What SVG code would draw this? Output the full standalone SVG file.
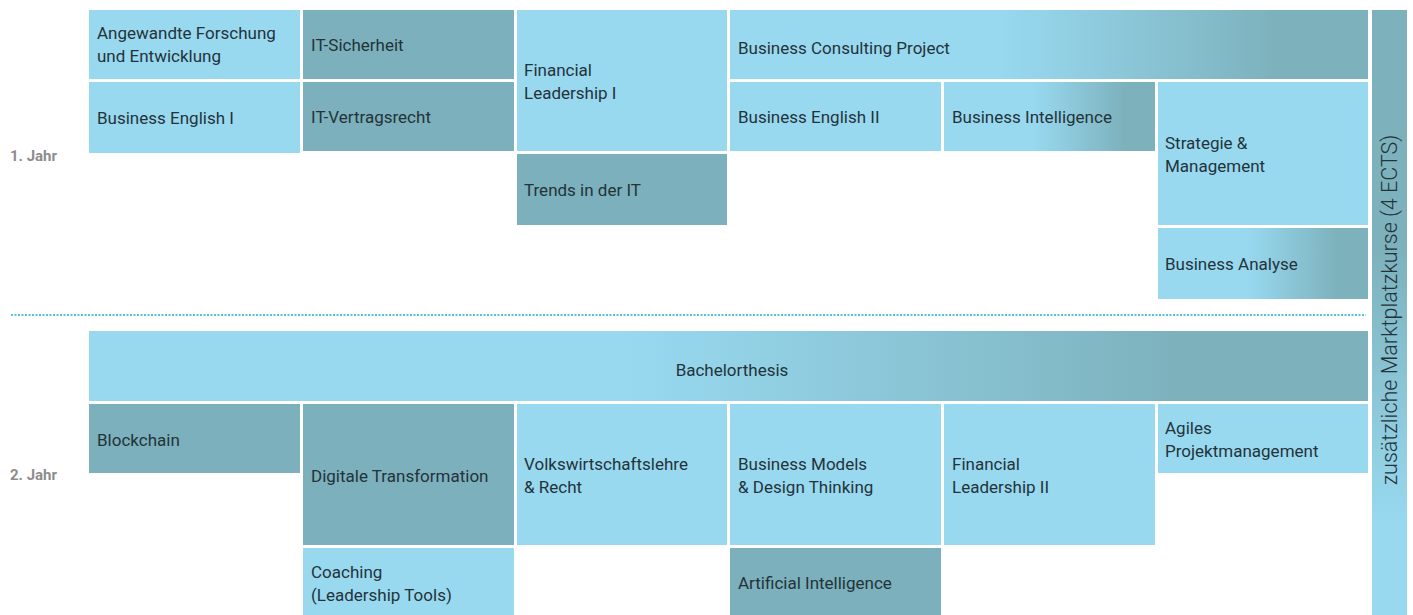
<svg xmlns="http://www.w3.org/2000/svg" width="1413" height="615" viewBox="0 0 1413 615">
<defs>
<linearGradient id="gh" x1="0" y1="0" x2="1" y2="0">
<stop offset="0.42" stop-color="#98d9f0"/>
<stop offset="0.85" stop-color="#7db2bd"/>
</linearGradient>
<linearGradient id="gv" x1="0" y1="0" x2="0" y2="1">
<stop offset="0.4" stop-color="#7db2bd"/>
<stop offset="0.85" stop-color="#98d9f0"/>
</linearGradient>
<style>
.l{fill:#98d9f0}
.d{fill:#7bb0bc}
.g{fill:url(#gh)}
text{font-family:Roboto,"Liberation Sans",sans-serif;font-size:17px;fill:#24333a}
.yr{font-weight:bold;font-size:15px;fill:#8c8c8c}
.v{font-size:21.5px;font-weight:300;fill:#24333a}
</style>
</defs>
<rect width="1413" height="615" fill="#ffffff"/>
<g id="connectors">
<line x1="11" y1="315" x2="1366" y2="315" stroke="#52c4e0" stroke-width="2" stroke-dasharray="2 1.5"/>
</g>
<g id="labels">
<text class="yr" x="10" y="161">1. Jahr</text>
<text class="yr" x="10" y="480">2. Jahr</text>
</g>
<g id="n-angewandte"><rect class="l" x="89" y="10" width="211" height="69"/><text x="97" y="39">Angewandte Forschung</text><text x="97" y="62">und Entwicklung</text></g>
<g id="n-itsicherheit"><rect class="d" x="303" y="10" width="211" height="69"/><text x="311" y="51">IT-Sicherheit</text></g>
<g id="n-be1"><rect class="l" x="89" y="82" width="211" height="71"/><text x="97" y="124">Business English I</text></g>
<g id="n-itvertrag"><rect class="d" x="303" y="82" width="211" height="69"/><text x="311" y="123">IT-Vertragsrecht</text></g>
<g id="n-fl1"><rect class="l" x="517" y="10" width="210" height="141"/><text x="524" y="76">Financial</text><text x="524" y="99">Leadership I</text></g>
<g id="n-trends"><rect class="d" x="517" y="154" width="210" height="71"/><text x="524" y="196">Trends in der IT</text></g>
<g id="n-bcp"><rect class="g" x="730" y="10" width="638" height="69"/><text x="738" y="54">Business Consulting Project</text></g>
<g id="n-be2"><rect class="l" x="730" y="82" width="211" height="69"/><text x="738" y="123">Business English II</text></g>
<g id="n-bi"><rect class="g" x="944" y="82" width="211" height="69"/><text x="952" y="123">Business Intelligence</text></g>
<g id="n-strategie"><rect class="l" x="1158" y="82" width="210" height="143"/><text x="1165" y="149">Strategie &amp;</text><text x="1165" y="172">Management</text></g>
<g id="n-ba"><rect class="g" x="1158" y="228" width="210" height="71"/><text x="1165" y="270">Business Analyse</text></g>
<g id="n-marktplatz"><rect fill="url(#gv)" x="1372" y="10" width="35" height="605"/><text class="v" transform="translate(1397 310) rotate(-90)" text-anchor="middle">zusätzliche Marktplatzkurse (4 ECTS)</text></g>
<g id="n-bachelor"><rect class="g" x="89" y="331" width="1279" height="70"/><text x="732" y="376" text-anchor="middle">Bachelorthesis</text></g>
<g id="n-blockchain"><rect class="d" x="89" y="404" width="211" height="69"/><text x="97" y="446">Blockchain</text></g>
<g id="n-digital"><rect class="d" x="303" y="404" width="211" height="141"/><text x="311" y="482">Digitale Transformation</text></g>
<g id="n-vwl"><rect class="l" x="517" y="404" width="210" height="141"/><text x="524" y="470">Volkswirtschaftslehre</text><text x="524" y="493">&amp; Recht</text></g>
<g id="n-bm"><rect class="l" x="730" y="404" width="211" height="141"/><text x="738" y="470">Business Models</text><text x="738" y="493">&amp; Design Thinking</text></g>
<g id="n-fl2"><rect class="l" x="944" y="404" width="211" height="141"/><text x="952" y="470">Financial</text><text x="952" y="493">Leadership II</text></g>
<g id="n-agiles"><rect class="l" x="1158" y="404" width="210" height="69"/><text x="1165" y="434">Agiles</text><text x="1165" y="457">Projektmanagement</text></g>
<g id="n-coaching"><rect class="l" x="303" y="548" width="211" height="67"/><text x="311" y="578">Coaching</text><text x="311" y="601">(Leadership Tools)</text></g>
<g id="n-ai"><rect class="d" x="730" y="548" width="211" height="67"/><text x="738" y="589">Artificial Intelligence</text></g>
</svg>
